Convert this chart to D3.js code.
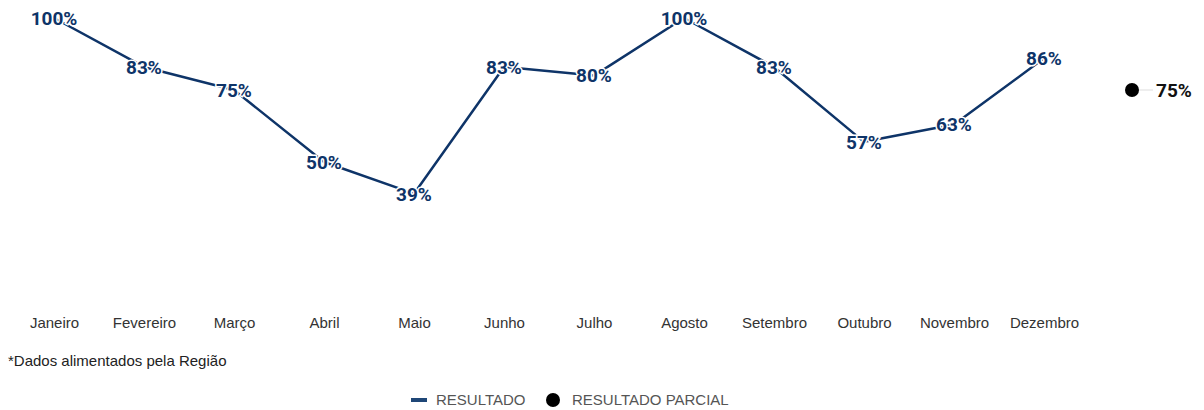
<!DOCTYPE html>
<html lang="pt">
<head>
<meta charset="UTF-8">
<title>Resultado mensal</title>
<script src="https://cdnjs.cloudflare.com/ajax/libs/d3/7.8.5/d3.min.js"></script>
<style>
  body { margin: 0; background: #fff; }
  svg { display: block; }
</style>
</head>
<body>
<svg id="chart" width="1204" height="410"></svg>
<script>
// dados
const meses = ["Janeiro", "Fevereiro", "Março", "Abril", "Maio", "Junho", "Julho",
  "Agosto", "Setembro", "Outubro", "Novembro", "Dezembro"];
const resultado = [100, 83, 75, 50, 39, 83, 80, 100, 83, 57, 63, 86];
const parcialSlot = "parcial";
const resultadoParcial = 75;
const legendItems = ["RESULTADO", "RESULTADO PARCIAL"];
const nota = "*Dados alimentados pela Região";

const svg = d3.select("#chart");
const navy = "#0e3468";
const sans = "Arial, 'Liberation Sans', sans-serif";

// 13 faixas: 12 meses + a do resultado parcial
const x = d3.scalePoint()
  .domain(meses.concat([parcialSlot]))
  .range([54, 1134]);
const y = d3.scaleLinear().domain([0, 100]).range([306, 18]);

// eixo x (só rótulos)
const xAxis = d3.axisBottom(x)
  .tickSize(0)
  .tickPadding(11)
  .tickFormat(d => d === parcialSlot ? "" : d);
const gx = svg.append("g").attr("transform", "translate(0,306)").call(xAxis);
gx.select(".domain").remove();
gx.selectAll("text")
  .attr("font-family", sans)
  .attr("font-size", 15)
  .attr("fill", "#333");

// linha
const line = d3.line().x((d, i) => x(meses[i])).y(d => y(d));
svg.append("path")
  .datum(resultado)
  .attr("d", line)
  .attr("fill", "none")
  .attr("stroke", navy)
  .attr("stroke-width", 2.5)
  .attr("stroke-linejoin", "round");

// rótulos dos valores, centrados no ponto
svg.append("g").selectAll("text")
  .data(resultado)
  .join("text")
  .attr("x", (d, i) => x(meses[i]))
  .attr("y", d => y(d))
  .attr("dy", "0.36em")
  .attr("text-anchor", "middle")
  .attr("font-family", "Roboto, sans-serif")
  .attr("font-weight", 700)
  .attr("font-size", 19)
  .attr("fill", navy)
  .attr("stroke", "#fff")
  .attr("stroke-width", 3)
  .attr("paint-order", "stroke")
  .text(d => d + "%");

// resultado parcial
const px = x(parcialSlot) - 2, py = y(resultadoParcial);
svg.append("line")
  .attr("x1", px + 7).attr("x2", px + 21)
  .attr("y1", py).attr("y2", py)
  .attr("stroke", "#ddd").attr("stroke-width", 1);
svg.append("circle")
  .attr("cx", px).attr("cy", py).attr("r", 7)
  .attr("fill", "#000");
svg.append("text")
  .attr("x", px + 24).attr("y", py)
  .attr("dy", "0.36em")
  .attr("font-family", "Roboto, sans-serif")
  .attr("font-weight", 700)
  .attr("font-size", 19)
  .attr("fill", "#111")
  .text(resultadoParcial + "%");

// nota
svg.append("text")
  .attr("x", 8).attr("y", 366)
  .attr("font-family", sans)
  .attr("font-size", 15)
  .attr("fill", "#222")
  .text(nota);

// legenda
const leg = svg.append("g").attr("transform", "translate(0,400)")
  .attr("font-family", sans)
  .attr("font-size", 15)
  .attr("fill", "#555");
leg.append("rect").attr("x", 411).attr("y", -2).attr("width", 16).attr("height", 4)
  .attr("fill", "#1f4777");
leg.append("text").attr("x", 436).attr("y", 5).text(legendItems[0]);
leg.append("circle").attr("cx", 553).attr("cy", 0).attr("r", 7).attr("fill", "#000");
leg.append("text").attr("x", 572).attr("y", 5).text(legendItems[1]);
</script>
</body>
</html>
